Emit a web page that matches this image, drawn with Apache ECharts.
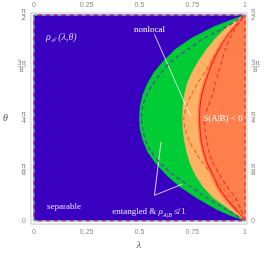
<!DOCTYPE html>
<html><head><meta charset="utf-8">
<script src="https://cdn.jsdelivr.net/npm/echarts@6/dist/echarts.min.js"></script>
<style>html,body{margin:0;padding:0;background:#fff}#c{width:264px;height:255px}</style>
</head><body><div id="c"></div>
<script>
// theta in degrees (0..90 = 0..π/2)
const theta = [0,2.5,5,10,15,20,25,30,35,40,45,50,55,60,65,70,75,80,85,87.5,90];
// lambda boundaries
const sepBoundary   = [1,0.925,0.865,0.77,0.69,0.628,0.578,0.54,0.517,0.503,0.5,0.503,0.516,0.538,0.57,0.615,0.67,0.75,0.855,0.925,1];
const nonlocalBound = [1,0.965,0.925,0.85,0.8,0.765,0.74,0.724,0.713,0.706,0.704,0.706,0.713,0.726,0.75,0.781,0.818,0.862,0.918,0.955,1];
const negCondBound  = [1,0.975,0.945,0.895,0.86,0.836,0.812,0.795,0.785,0.778,0.776,0.778,0.785,0.8,0.818,0.838,0.866,0.9,0.943,0.97,1];
const redSolid      = [1,0.98,0.955,0.91,0.873,0.849,0.822,0.805,0.793,0.787,0.785,0.787,0.795,0.81,0.828,0.85,0.877,0.91,0.953,0.977,1];
const purpleDashed  = [1,0.955,0.91,0.82,0.74,0.66,0.6,0.557,0.53,0.515,0.51,0.515,0.535,0.565,0.605,0.655,0.73,0.81,0.915,0.96,1];
const orangeDashed  = [1,0.98,0.962,0.932,0.89,0.845,0.802,0.765,0.735,0.716,0.71,0.722,0.745,0.775,0.81,0.84,0.872,0.91,0.955,0.978,1];
const redDashed     = [1,0.99,0.98,0.955,0.915,0.88,0.85,0.83,0.818,0.81,0.808,0.825,0.845,0.86,0.875,0.89,0.907,0.93,0.96,0.98,1];
// plot domain
const domainCorners = [[0,0],[1,0],[1,90],[0,90]];
const edgeLeft = [[0,0],[0,90]];
const edgeTop = [[0,90],[1,90]];
const edgeBottom = [[0,0],[1,0]];
const edgeRight = [[1,0],[1,90]];
// tick labels
const lambdaTicks = [0,0.25,0.5,0.75,1];
const lambdaLabels = ['0','0.25','0.5','0.75','1'];
const thetaTicks = [0,22.5,45,67.5,90];
const thetaLabels = ['0','{n|π\u0332}\n{d|8}','{n|π\u0332}\n{d|4}','{n|3\u0332π\u0332}\n{d|8}','{n|π\u0332}\n{d|2}'];
// arrows (lambda, theta)
const arrowNonlocal = [[0.571,81.5],[0.743,45.5]];
const arrowEnt1 = [[0.571,11.1],[0.602,34.4]];
const arrowEnt2 = [[0.571,11.1],[0.704,16.0]];

const pairs = arr => theta.map((t,i)=>[arr[i], t]);

function region(pts, color, z){
  return {type:'custom', coordinateSystem:'cartesian2d', silent:true, z:z, clip:true,
    data:[pts[0]],
    renderItem:(params, api)=>({type:'polygon',
      shape:{points: pts.map(p=>api.coord(p))},
      style:{fill:color, stroke:color, lineWidth:0.5}})};
}
function curve(arr, color, type, width, z, offset){
  return {type:'line', data:arr, showSymbol:false, smooth:0.25, silent:true, z:z,
    lineStyle:{color:color, width:width, type:type, dashOffset:offset||0}};
}
const tickLabel = {fontSize:7, color:'#8a8a8a', fontFamily:'Liberation Sans'};
const rich = {n:{fontSize:7, lineHeight:7, color:'#808080', fontFamily:'DejaVu Sans', align:'center'},
              d:{fontSize:7, lineHeight:7, color:'#808080', fontFamily:'DejaVu Sans', align:'center'}};
const thetaFmt = v => { const i = thetaTicks.indexOf(v); return i<0?'':thetaLabels[i]; };
const lamFmt = v => { const i = lambdaTicks.indexOf(v); return i<0?'':lambdaLabels[i]; };

const chart = echarts.init(document.getElementById('c'), null, {renderer:'canvas'});
const xBase = {type:'value', min:-0.0141, max:1.0094, splitLine:{show:false}, axisLine:{show:false}, axisTick:{show:false}};
const yBase = {type:'value', min:-1.48, max:90.85, splitLine:{show:false}, axisLine:{show:false}, axisTick:{show:false}};
chart.setOption({
  animation:false,
  grid:{left:29, right:17, top:13, bottom:24, show:true, borderColor:'#c4c4c4', borderWidth:1, backgroundColor:'transparent'},
  xAxis:[
    Object.assign({}, xBase, {position:'bottom', name:'λ', nameLocation:'middle', nameGap:14,
      nameTextStyle:{fontSize:10, fontStyle:'italic', fontFamily:'Liberation Serif', color:'#555'},
      axisLabel:Object.assign({customValues:lambdaTicks, formatter:lamFmt, margin:4}, tickLabel)}),
    Object.assign({}, xBase, {position:'top',
      axisLabel:Object.assign({customValues:lambdaTicks, formatter:lamFmt, margin:4}, tickLabel)})
  ],
  yAxis:[
    Object.assign({}, yBase, {position:'left', name:'θ', nameLocation:'middle', nameGap:23, nameRotate:0,
      nameTextStyle:{fontSize:10, fontStyle:'italic', fontFamily:'Liberation Serif', color:'#555'},
      axisLabel:Object.assign({customValues:thetaTicks, formatter:thetaFmt, margin:5, rich:rich}, tickLabel)}),
    Object.assign({}, yBase, {position:'right',
      axisLabel:Object.assign({customValues:thetaTicks, formatter:thetaFmt, margin:4, rich:rich}, tickLabel)})
  ],
  series:[
    region(domainCorners, '#3a00c0', 1),
    region(pairs(sepBoundary), '#00cc36', 2),
    region(pairs(nonlocalBound), '#ffb263', 3),
    region(pairs(negCondBound), '#ff7f4c', 4),
    curve(pairs(redSolid), '#ff1a1a', 'solid', 1.1, 6),
    curve(pairs(purpleDashed), '#6b3fa0', [4,3], 1.3, 6),
    curve(pairs(orangeDashed), '#ff5a22', [4,3], 1.1, 6),
    curve(pairs(redDashed), '#ff2a2a', [4,3], 1.1, 6),
    curve(edgeLeft, '#80b0d0', [4,4], 1.4, 7, 0),
    curve(edgeLeft, '#c03070', [4,4], 1.4, 7, 4),
    curve(edgeTop, '#80b0d0', [4,4], 1.4, 7, 0),
    curve(edgeTop, '#c03070', [4,4], 1.4, 7, 4),
    curve(edgeBottom, '#80b0d0', [4,4], 1.4, 7, 0),
    curve(edgeBottom, '#c03070', [4,4], 1.4, 7, 4),
    curve(edgeRight, '#ff3030', [4,3], 1.3, 7, 0),
    {type:'line', data:[], z:8, silent:true,
      markLine:{silent:true, symbol:['none','arrow'], symbolSize:[0,5], label:{show:false},
        lineStyle:{color:'#ffffff', width:0.8, type:'solid'},
        data:[
          [{coord:arrowNonlocal[0]},{coord:arrowNonlocal[1]}],
          [{coord:arrowEnt1[0]},{coord:arrowEnt1[1]}],
          [{coord:arrowEnt2[0]},{coord:arrowEnt2[1]}]
        ]}}
  ],
  graphic:[
    {type:'text', left:46, top:32, z:100, style:{text:'{a|ρ}{s|ℱ}{a| (λ,θ)}', rich:{
      a:{fontSize:10, fontStyle:'italic', fontFamily:'Liberation Serif', fill:'#d4ccff', lineHeight:12},
      s:{fontSize:6, fontStyle:'italic', fontFamily:'DejaVu Serif', fill:'#d4ccff', lineHeight:12, verticalAlign:'bottom', padding:[4,0,0,0]}}}},
    {type:'text', x:149.5, y:30, z:100, style:{text:'nonlocal', fontSize:9, fontFamily:'Liberation Serif', fill:'#ffffff', align:'center', verticalAlign:'middle'}},
    {type:'text', x:223, y:119, z:100, style:{text:'S(A|B) < 0', fontSize:9, fontFamily:'Liberation Serif', fill:'#ffffff', align:'center', verticalAlign:'middle'}},
    {type:'text', x:64, y:207, z:100, style:{text:'separable', fontSize:9, fontFamily:'Liberation Serif', fill:'#e0dcff', align:'center', verticalAlign:'middle'}},
    {type:'text', x:149, y:212, z:100, style:{text:'{a|entangled & }{b|ρ}{s|A|B}{a| ≰ 1}', align:'center', verticalAlign:'middle', rich:{
      a:{fontSize:9, fontFamily:'Liberation Serif', fill:'#e6e2ff', lineHeight:12},
      b:{fontSize:9, fontStyle:'italic', fontFamily:'Liberation Serif', fill:'#e6e2ff', lineHeight:12},
      s:{fontSize:6, fontStyle:'italic', fontFamily:'Liberation Serif', fill:'#e6e2ff', lineHeight:12, verticalAlign:'bottom', padding:[3,0,0,0]}}}}
  ]
});
</script></body></html>
